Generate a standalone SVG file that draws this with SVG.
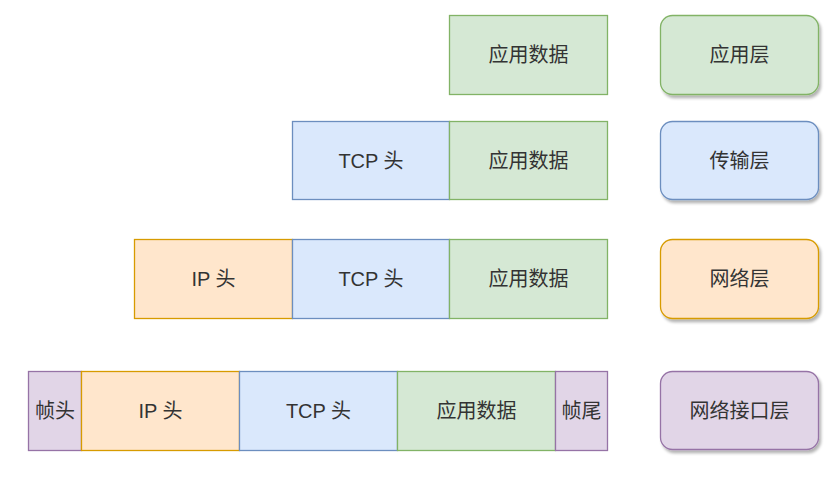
<svg xmlns="http://www.w3.org/2000/svg" width="839" height="480" viewBox="0 0 839 480">
<defs>
<filter id="sh" x="-10%" y="-10%" width="130%" height="140%">
<feGaussianBlur in="SourceAlpha" stdDeviation="1.5"/>
<feOffset dx="2" dy="3" result="b"/>
<feComponentTransfer><feFuncA type="linear" slope="0.3"/></feComponentTransfer>
<feMerge><feMergeNode/><feMergeNode in="SourceGraphic"/></feMerge>
</filter>
</defs>
<style>
text{font-family:"Liberation Sans","Noto Sans CJK SC",sans-serif;font-size:20px;fill:#333;text-anchor:middle;dominant-baseline:central}
.g{fill:#d5e8d4;stroke:#82b366;stroke-width:1.3}
.b{fill:#dae8fc;stroke:#6c8ebf;stroke-width:1.3}
.o{fill:#ffe6cc;stroke:#d79b00;stroke-width:1.3}
.p{fill:#e1d5e7;stroke:#9673a6;stroke-width:1.3}
.l{filter:url(#sh)}
</style>
<rect width="839" height="480" fill="#fff"/>
<g id="r1-app"><rect class="g" x="449.5" y="15.5" width="158" height="79"/><text x="528.5" y="55">应用数据</text></g>
<g id="layer-app"><rect class="g l" x="660.5" y="15.5" width="158" height="79" rx="12"/><text x="739.5" y="55">应用层</text></g>

<g id="r2-tcp"><rect class="b" x="292.5" y="121.5" width="157" height="78"/><text x="371" y="160.5">TCP 头</text></g>
<g id="r2-app"><rect class="g" x="449.5" y="121.5" width="158" height="78"/><text x="528.5" y="160.5">应用数据</text></g>
<g id="layer-transport"><rect class="b l" x="660.5" y="121.5" width="158" height="78" rx="12"/><text x="739.5" y="160.5">传输层</text></g>

<g id="r3-ip"><rect class="o" x="134.5" y="239.5" width="158" height="79"/><text x="213.5" y="279">IP 头</text></g>
<g id="r3-tcp"><rect class="b" x="292.5" y="239.5" width="157" height="79"/><text x="371" y="279">TCP 头</text></g>
<g id="r3-app"><rect class="g" x="449.5" y="239.5" width="158" height="79"/><text x="528.5" y="279">应用数据</text></g>
<g id="layer-network"><rect class="o l" x="660.5" y="239.5" width="158" height="79" rx="12"/><text x="739.5" y="279">网络层</text></g>

<g id="r4-fh"><rect class="p" x="28.5" y="371.5" width="53" height="79"/><text x="55" y="411">帧头</text></g>
<g id="r4-ip"><rect class="o" x="81.5" y="371.5" width="158" height="79"/><text x="160.5" y="411">IP 头</text></g>
<g id="r4-tcp"><rect class="b" x="239.5" y="371.5" width="158" height="79"/><text x="318.5" y="411">TCP 头</text></g>
<g id="r4-app"><rect class="g" x="397.5" y="371.5" width="158" height="79"/><text x="476.5" y="411">应用数据</text></g>
<g id="r4-ft"><rect class="p" x="555.5" y="371.5" width="52" height="79"/><text x="581.5" y="411">帧尾</text></g>
<g id="layer-link"><rect class="p l" x="660.5" y="371.5" width="158" height="78" rx="12"/><text x="739.5" y="410.5">网络接口层</text></g>
<g id="connectors"></g>
</svg>
